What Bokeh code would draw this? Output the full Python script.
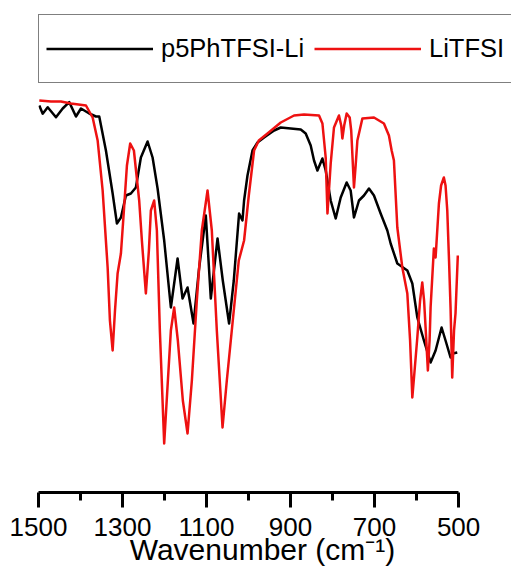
from bokeh.plotting import figure
from bokeh.models import Range1d, FixedTicker, Legend, LegendItem
from bokeh.embed import file_html
from bokeh.resources import INLINE

# Wavenumber (cm^-1) and transmittance (a.u.)
wn_poly = [1498.1, 1490.0, 1478.1, 1458.4, 1442.4, 1426.8, 1410.8, 1398.9, 1379.2, 1363.3,
           1355.4, 1339.5, 1323.5, 1313.3, 1303.8, 1291.9, 1280.1, 1268.2, 1256.3, 1240.3,
           1228.4, 1216.5, 1200.8, 1184.9, 1168.9, 1157.1, 1145.2, 1130.9, 1118.3, 1101.7,
           1089.8, 1073.8, 1061.3, 1046.3, 1035.1, 1022.5, 1014.4, 1010.6, 1002.5, 990.6,
           978.7, 963.0, 939.2, 923.3, 899.5, 875.7, 863.9, 852.0, 844.1, 836.0,
           824.1, 816.3, 804.4, 792.5, 780.6, 766.4, 756.9, 749.0, 737.1, 725.2,
           713.3, 701.4, 685.5, 669.6, 661.7, 645.8, 622.0, 610.1, 598.2, 582.5,
           566.6, 554.7, 540.4, 531.0, 519.1, 514.0, 503.1]
t_poly = [96.75, 94.7, 96.3, 93.8, 96.0, 97.6, 94.0, 96.0, 94.75, 94.0,
          94.0, 85.5, 74.75, 67.25, 68.75, 74.25, 74.75, 76.25, 83.75, 87.75,
          83.75, 76.0, 63.0, 46.25, 58.5, 48.5, 51.25, 42.25, 55.5, 69.25,
          48.5, 63.5, 53.0, 42.25, 53.0, 69.75, 68.0, 73.0, 79.25, 85.5,
          87.5, 88.75, 90.5, 91.25, 91.0, 90.75, 89.75, 86.75, 83.0, 80.5,
          83.5, 80.5, 73.0, 68.5, 73.75, 77.5, 75.5, 68.75, 73.0, 74.25,
          76.0, 74.25, 69.75, 65.5, 62.25, 57.25, 55.5, 52.25, 43.75, 38.0,
          32.5, 35.5, 41.25, 38.0, 33.75, 34.75, 35.0]

wn_litfsi = [1498.1, 1470.3, 1446.5, 1422.7, 1387.0, 1371.1, 1359.2, 1347.3, 1335.4, 1330.0,
             1323.5, 1317.9, 1311.7, 1303.8, 1296.7, 1289.5, 1281.7, 1272.9, 1260.3, 1253.9,
             1244.4, 1237.2, 1232.5, 1224.6, 1218.2, 1211.1, 1200.8, 1192.0, 1184.9, 1177.0,
             1168.3, 1156.4, 1145.2, 1134.9, 1123.1, 1111.2, 1097.6, 1087.4, 1075.5, 1061.9,
             1051.7, 1037.5, 1023.2, 1010.6, 999.4, 986.8, 975.6, 954.9, 923.3, 891.7,
             867.9, 832.2, 824.1, 816.3, 812.1, 804.4, 796.6, 784.7, 779.4, 776.6,
             772.3, 766.4, 759.2, 755.6, 752.1, 749.0, 745.0, 740.9, 729.0, 701.4,
             677.7, 665.8, 659.3, 653.9, 645.8, 633.9, 622.0, 615.4, 610.1, 604.7,
             598.2, 591.6, 586.4, 582.1, 578.5, 573.1, 569.0, 566.6, 558.8, 554.7,
             546.8, 541.6, 535.0, 531.0, 526.9, 522.7, 519.1, 515.1, 510.8, 507.3, 501.8]
t_litfsi = [98.0, 97.75, 97.75, 97.25, 96.75, 93.75, 88.0, 75.5, 56.25, 43.0,
            35.5, 45.5, 54.75, 59.75, 70.5, 81.75, 87.25, 85.5, 73.0, 63.0,
            49.75, 60.5, 70.5, 73.0, 65.5, 40.5, 12.25, 28.0, 40.5, 46.25,
            38.0, 23.0, 14.75, 28.0, 48.0, 65.5, 75.5, 65.5, 40.5, 16.25,
            28.0, 43.0, 58.0, 63.0, 74.25, 85.5, 88.0, 89.75, 92.5, 94.25,
            94.5, 94.25, 92.25, 83.75, 69.75, 82.25, 91.25, 94.25, 91.75, 88.5,
            91.75, 94.75, 93.75, 90.5, 83.0, 76.25, 81.75, 88.0, 93.5, 93.75,
            92.25, 89.25, 85.5, 83.0, 66.25, 56.25, 49.75, 38.0, 23.75, 30.5,
            38.75, 48.0, 52.5, 48.0, 41.25, 30.5, 38.0, 46.25, 61.0, 58.75,
            72.25, 76.75, 78.75, 76.75, 70.5, 58.0, 46.25, 28.75, 40.5, 44.75, 59.25]

major_ticks = [1500, 1300, 1100, 900, 700, 500]
minor_ticks = [1400, 1200, 1000, 800, 600]
series_names = ["p5PhTFSI-Li", "LiTFSI"]
x_title = "Wavenumber (cm⁻¹)"

FONT = "Liberation Sans"

# frame spans the full width so the legend box can run off the right edge;
# the axis line itself is limited to 1500..500 via bounds
p = figure(width=511, height=575, output_backend="svg", toolbar_location=None,
           x_range=Range1d(1500, 374), y_range=Range1d(0, 119.5),
           min_border_left=38, min_border_right=0, min_border_top=14, min_border_bottom=83)
p.outline_line_color = None
p.xgrid.visible = False
p.ygrid.visible = False
p.yaxis.visible = False

r1 = p.line(wn_poly, t_poly, line_color="black", line_width=2.5, line_join="round")
r2 = p.line(wn_litfsi, t_litfsi, line_color="#ee1111", line_width=2.5, line_join="round")

ax = p.xaxis[0]
ax.bounds = (500, 1500)
ax.ticker = FixedTicker(ticks=major_ticks, minor_ticks=minor_ticks)
ax.axis_line_width = 3
ax.axis_line_color = "black"
ax.major_tick_line_width = 3
ax.minor_tick_line_width = 3
ax.major_tick_in = 0
ax.major_tick_out = 15
ax.minor_tick_in = 0
ax.minor_tick_out = 8
ax.major_label_text_font = FONT
ax.major_label_text_font_size = "26px"
ax.major_label_text_color = "black"
ax.major_label_standoff = 10
# trailing no-break spaces nudge the visible title a little left of the frame centre
ax.axis_label = x_title + "\u00a0\u00a0\u00a0"
ax.axis_label_text_font = FONT
ax.axis_label_text_font_size = "30px"
ax.axis_label_text_font_style = "normal"
ax.axis_label_text_color = "black"
ax.axis_label_standoff = -6

legend = Legend(items=[LegendItem(label=series_names[0], renderers=[r1]),
                       LegendItem(label=series_names[1], renderers=[r2])],
                orientation="horizontal", location="top_left", margin=0,
                padding=7, spacing=8, label_standoff=8, label_width=145,
                glyph_width=107, glyph_height=53, label_height=53,
                label_text_font=FONT, label_text_font_size="25.5px",
                label_text_color="black",
                border_line_color="black", border_line_width=1.5,
                background_fill_color="white", background_fill_alpha=1.0)
p.add_layout(legend)

open("out.html", "w").write(file_html(p, INLINE))
